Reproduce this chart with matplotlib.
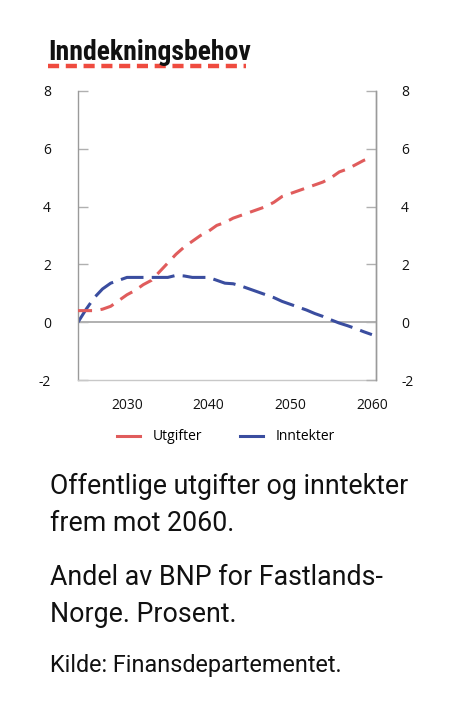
import matplotlib
matplotlib.use("Agg")
import matplotlib.pyplot as plt
from matplotlib.lines import Line2D
import numpy as np

years = list(range(2024, 2061))
utgifter = [0.40, 0.40, 0.40, 0.45, 0.55, 0.75, 0.95, 1.10, 1.30, 1.45,
            1.75, 2.05, 2.35, 2.60, 2.80, 3.00, 3.15, 3.35, 3.45, 3.60,
            3.70, 3.80, 3.90, 4.00, 4.15, 4.35, 4.45, 4.55, 4.65, 4.75,
            4.85, 5.00, 5.20, 5.30, 5.45, 5.60, 5.70]
inntekter = [0.00, 0.45, 0.85, 1.15, 1.35, 1.45, 1.55, 1.55, 1.55, 1.55,
             1.55, 1.55, 1.62, 1.60, 1.55, 1.55, 1.55, 1.45, 1.35, 1.33,
             1.25, 1.15, 1.05, 0.95, 0.85, 0.72, 0.62, 0.52, 0.42, 0.30,
             0.20, 0.08, -0.03, -0.12, -0.22, -0.33, -0.43]
series_names = ["Utgifter", "Inntekter"]
yticks = [-2, 0, 2, 4, 6, 8]
xticks = [2030, 2040, 2050, 2060]

title = "Inndekningsbehov"
body_lines = ["Offentlige utgifter og inntekter", "frem mot 2060.",
              "Andel av BNP for Fastlands-", "Norge. Prosent."]
source = "Kilde: Finansdepartementet."

RED = "#e05c5c"
BLUE = "#3a4d9f"
GRAY = "#9a9a9a"

W, H = 462, 716
fig = plt.figure(figsize=(W / 100, H / 100), dpi=100)
fig.patch.set_facecolor("white")

def fx(px):
    return px / W

def fy(py):
    return 1 - py / H

ax = fig.add_axes([fx(78), fy(380), fx(376) - fx(78), fy(91) - fy(380)])
ax.set_xlim(2024, 2060.5)
ax.set_ylim(-2, 8)

lw = 2.2
ax.axhline(0, color="#b0b0b0", lw=1.4, zorder=1)
ax.plot(years, utgifter, color=RED, lw=lw, dashes=(4.6, 2.8), zorder=3,
        dash_capstyle="butt")
ax.plot(years, inntekter, color=BLUE, lw=lw, dashes=(7.5, 2.7), zorder=2,
        dash_capstyle="butt")

ax.spines["top"].set_visible(False)
for s in ["left", "right"]:
    ax.spines[s].set_color(GRAY)
    ax.spines[s].set_linewidth(1.0)
ax.spines["bottom"].set_color("#c8c8c8")
ax.spines["bottom"].set_linewidth(1.0)

tick_font = dict(family=["Open Sans", "DejaVu Sans"], size=10)
ax.set_yticks(yticks)
ax.set_yticklabels([str(v) for v in yticks], **tick_font)
ax.tick_params(axis="y", direction="in", length=7.5, width=1.0,
               color="#b0b0b0", left=True, right=False, labelleft=True,
               labelright=False, pad=19.5, labelcolor="#111111")
ax.set_xticks(xticks)
ax.set_xticklabels([str(v) for v in xticks], **tick_font)
ax.tick_params(axis="x", length=0, pad=13, labelcolor="#111111")

ax2 = ax.twinx()
ax2.set_ylim(ax.get_ylim())
ax2.set_yticks(yticks)
ax2.set_yticklabels([str(v) for v in yticks], **tick_font)
ax2.tick_params(axis="y", direction="in", length=7.5, width=1.0,
                color="#b0b0b0", pad=18, labelcolor="#111111")
for s in ["top", "left", "bottom"]:
    ax2.spines[s].set_visible(False)
ax2.spines["right"].set_color(GRAY)
ax2.spines["right"].set_linewidth(1.0)

# Legend
handles = [Line2D([0], [0], color=RED, lw=2.2), Line2D([0], [0], color=BLUE, lw=2.2)]
leg = fig.legend(handles, series_names, loc="center", bbox_to_anchor=(fx(226), fy(437)),
                 ncol=2, frameon=False, handlelength=1.66, handletextpad=0.94,
                 columnspacing=2.7, prop=dict(family=["Open Sans", "DejaVu Sans"], size=10))

# Title
fig.text(fx(48), fy(60), title, ha="left", va="baseline", color="#111111",
         fontsize=20, fontweight="bold",
         family=["Roboto Condensed", "DejaVu Sans"])
fig.add_artist(Line2D([fx(48), fx(246)], [fy(65.5), fy(65.5)], color="#ef4b3f",
                      lw=3.2, dashes=(2.5, 1.5), transform=fig.transFigure))

body_font = ["Roboto", "DejaVu Sans"]
baselines = [494, 531, 585, 622]
for txt, b in zip(body_lines, baselines):
    fig.text(fx(50), fy(b), txt, ha="left", va="baseline", fontsize=19.3,
             family=body_font, fontweight="normal", color="#111111")
fig.text(fx(50), fy(672), source, ha="left", va="baseline", fontsize=16.8,
         family=body_font, fontweight="normal", color="#111111")

fig.savefig("out.png", dpi=100, facecolor="white")
